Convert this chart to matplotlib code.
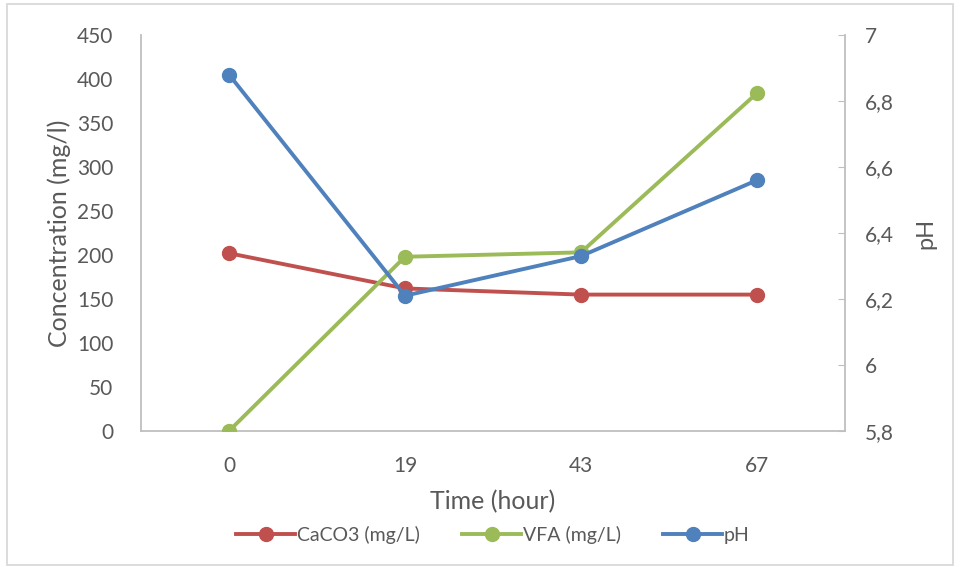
import matplotlib.pyplot as plt
from matplotlib.patches import Rectangle
from matplotlib.lines import Line2D

# data
time_labels = ["0", "19", "43", "67"]
caco3 = [202, 162, 155, 155]
vfa = [0, 198, 203, 384]
ph = [6.88, 6.21, 6.33, 6.56]

red = "#C0504D"
green = "#9BBB59"
blue = "#4F81BD"
txt = "#595959"
spine = "#BFBFBF"

plt.rcParams["font.family"] = ["Lato", "DejaVu Sans"]

fig = plt.figure(figsize=(9.6, 5.69), dpi=100)
ax = fig.add_axes([141 / 960, 1 - 431 / 569, 704 / 960, 396 / 569])
ax2 = ax.twinx()

x = list(range(len(time_labels)))
ax.plot(x, caco3, color=red, lw=2.8, marker="o", ms=10, zorder=3)
ax.plot(x, vfa, color=green, lw=2.8, marker="o", ms=10, zorder=3)
ax2.plot(x, ph, color=blue, lw=2.8, marker="o", ms=10, zorder=3)

ax.set_xlim(-0.5, 3.5)
ax.set_ylim(0, 450)
ax.set_yticks(range(0, 451, 50))
ax.set_xticks(x)
ax.set_xticklabels(time_labels)
ax2.set_ylim(5.8, 7.0)
ph_ticks = [5.8, 6.0, 6.2, 6.4, 6.6, 6.8, 7.0]
ax2.set_yticks(ph_ticks)
ax2.set_yticklabels([f"{t:g}".replace(".", ",") for t in ph_ticks])

for a in (ax, ax2):
    for s in a.spines.values():
        s.set_color(spine)
        s.set_linewidth(1.3)
    a.spines["top"].set_visible(False)
ax.spines["right"].set_visible(False)
ax2.spines["left"].set_visible(False)
ax2.spines["bottom"].set_visible(False)

ax.tick_params(axis="y", length=0, labelsize=15, labelcolor=txt, pad=20)
ax.tick_params(axis="x", length=0, labelsize=15, labelcolor=txt, pad=18)
ax2.tick_params(axis="y", direction="in", length=5, color=spine, labelsize=15,
                labelcolor=txt, pad=14)

ax.set_xlabel("Time (hour)", fontsize=18, color=txt, labelpad=10)
ax.set_ylabel("Concentration (mg/l)", fontsize=18, color=txt, labelpad=4)
ax2.set_ylabel("pH", fontsize=17, color=txt, labelpad=16)

handles = [Line2D([], [], color=c, lw=2.8, marker="o", ms=10) for c in (red, green, blue)]
fig.legend(handles, ["CaCO3 (mg/L)", "VFA (mg/L)", "pH"], loc="center",
           bbox_to_anchor=(493 / 960, 1 - 535 / 569), ncol=3, frameon=False,
           fontsize=14, labelcolor=txt, handlelength=3, handletextpad=0.1,
           columnspacing=2.2)

fig.add_artist(Rectangle((7 / 960, 4 / 569), 946 / 960, 561 / 569,
                         transform=fig.transFigure, fill=False,
                         edgecolor="#D9D9D9", lw=1.3))

fig.savefig("out.png", dpi=100, facecolor="white")
